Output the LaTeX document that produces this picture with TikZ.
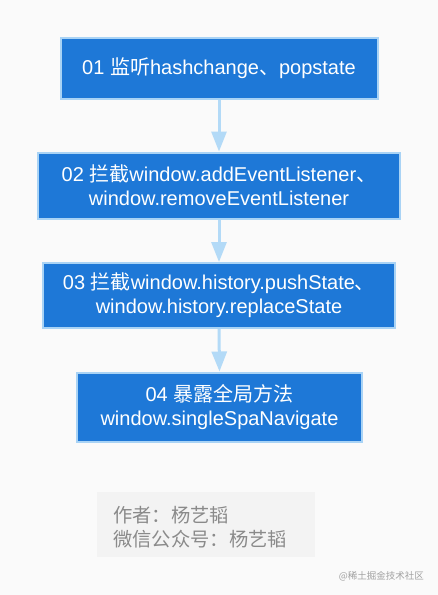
\documentclass[tikz,border=0pt]{standalone}
\usepackage{fontspec}
\setmainfont{Liberation Sans}
\newfontfamily\zhfont{Noto Sans CJK SC}
\newcommand{\zh}[1]{{\zhfont #1}}
\usetikzlibrary{arrows.meta}
\definecolor{bg}{HTML}{FAFAFA}
\definecolor{boxfill}{HTML}{1E78D7}
\definecolor{boxline}{HTML}{A9D3F5}
\definecolor{arr}{HTML}{B3DAF7}
\definecolor{notefill}{HTML}{F3F3F3}
\definecolor{notetext}{HTML}{8A8A8A}
\begin{document}
\begin{tikzpicture}[x=1pt,y=-1pt,
  stepbox/.style={draw=boxline,line width=2pt,fill=boxfill,text=white,
    font=\fontsize{20}{24}\selectfont,align=center,inner sep=0pt},
  flow/.style={draw=arr,line width=3pt,-{Triangle[width=15pt,length=20pt]}}]
\fill[bg] (0,0) rectangle (438,595);
\useasboundingbox (0,0) rectangle (438,595);
\node[stepbox,minimum width=317pt,minimum height=61pt] (s1) at (219,68.5) {01 \zh{监听}hashchange\zh{、}popstate};
\node[stepbox,minimum width=362pt,minimum height=66pt] (s2) at (219,185.5) {02 \zh{拦截}window.addEventListener\zh{、}\\window.removeEventListener};
\node[stepbox,minimum width=352pt,minimum height=65pt] (s3) at (219,295.5) {03 \zh{拦截}window.history.pushState\zh{、}\\window.history.replaceState};
\node[stepbox,minimum width=285pt,minimum height=69pt] (s4) at (219.5,407) {04 \zh{暴露全局方法}\\window.singleSpaNavigate};
\draw[flow] (s1.south) -- (s2.north);
\draw[flow] (s2.south) -- (s3.north);
\draw[flow] (s3.south) -- (s4.north);
\fill[notefill] (97,492) rectangle (315,557);
\node[anchor=west,text=notetext,align=left,font=\zhfont\fontsize{19.3}{24}\selectfont,inner sep=0pt] (note) at (113,527) {作者：杨艺韬\\微信公众号：杨艺韬};
\node[anchor=east,text=notetext!80,font=\zhfont\fontsize{9.5}{11}\selectfont,inner sep=0pt] (wm) at (424,576) {@稀土掘金技术社区};
\end{tikzpicture}
\end{document}
